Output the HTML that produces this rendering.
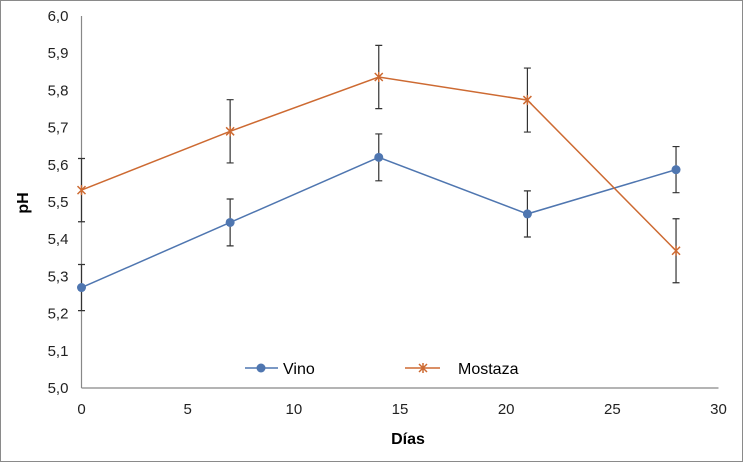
<!DOCTYPE html>
<html><head><meta charset="utf-8"><style>
html,body{margin:0;padding:0;background:#fff;}
svg{display:block;font-family:"Liberation Sans",Arial,sans-serif;}
</style></head><body>
<svg id="chart" width="744" height="463" viewBox="0 0 744 463">
<rect x="0.5" y="0.5" width="742" height="461" fill="#fff" stroke="#8a8a8a"/>
<g id="axes"></g><g id="series"></g>
<text x="28" y="203" transform="rotate(-90 28 203)" text-anchor="middle" font-weight="bold" font-size="16">pH</text>
<text x="408" y="444" text-anchor="middle" font-weight="bold" font-size="16">Días</text>
<g>
<line x1="245" y1="368" x2="278" y2="368" stroke="#4f76b0" stroke-width="1.5"/>
<circle cx="261" cy="368" r="4.5" fill="#4f76b0"/>
<text x="283" y="374" font-size="16">Vino</text>
<line x1="405" y1="368" x2="440" y2="368" stroke="#cd6a32" stroke-width="1.5"/>
<path d="M419 364l8 8M427 364l-8 8M423 363v10" stroke="#cd6a32" stroke-width="1.5"/>
<text x="458" y="374" font-size="16">Mostaza</text>
</g>
</svg>
<script>
const days=[0,7,14,21,28];
const vino=[5.27,5.445,5.62,5.468,5.587];
const vinoErr=[0.062,0.063,0.063,0.062,0.062];
const mostaza=[5.532,5.69,5.836,5.774,5.369];
const mostazaErr=[0.085,0.085,0.085,0.086,0.086];
const xTicks=[0,5,10,15,20,25,30];
const yTicks=[5.0,5.1,5.2,5.3,5.4,5.5,5.6,5.7,5.8,5.9,6.0];
const NS="http://www.w3.org/2000/svg";
const X=v=>81.5+(v-0)*(718.5-81.5)/30;
const Y=v=>388-(v-5)*372;
function mk(t,a,p){const e=document.createElementNS(NS,t);for(const k in a)e.setAttribute(k,a[k]);p.appendChild(e);return e;}
const ax=document.getElementById('axes'),sg=document.getElementById('series');
let l=mk('line',{x1:X(0),y1:Y(6),x2:X(0),y2:Y(5),stroke:'#888','stroke-width':1.2},ax);


l=mk('line',{x1:X(0),y1:Y(5),x2:X(30),y2:Y(5),stroke:'#888','stroke-width':1.2},ax);


yTicks.forEach(v=>{const t=mk('text',{x:58,y:Y(v)+5,'text-anchor':'middle','font-size':15,fill:'#222'},ax);t.textContent=v.toFixed(1).replace('.',',');

});
xTicks.forEach(v=>{const t=mk('text',{x:X(v),y:414,'text-anchor':'middle','font-size':15,fill:'#222'},ax);t.textContent=v;

});
function series(vals,errs,col,name,marker){
 const g=mk('g',{},sg);
 
 
 vals.forEach((v,i)=>{const x=X(days[i]),t=Y(v+errs[i]),b=Y(v-errs[i]);
  mk('path',{d:`M${x} ${t}V${b}M${x-3.5} ${t}h7M${x-3.5} ${b}h7`,stroke:'#333','stroke-width':1.2,fill:'none'},g);});
 const pl=mk('polyline',{points:vals.map((v,i)=>X(days[i])+','+Y(v)).join(' '),fill:'none',stroke:col,'stroke-width':1.5},g);
 
 
 vals.forEach((v,i)=>{const x=X(days[i]),y=Y(v);let m;
  if(marker==='c')m=mk('circle',{cx:x,cy:y,r:4.5,fill:col},g);
  else m=mk('path',{d:`M${x-4} ${y-4}l8 8M${x+4} ${y-4}l-8 8M${x} ${y-5}v10`,stroke:col,'stroke-width':1.5},g);
  
  });
}
series(vino,vinoErr,'#4f76b0','vino','c');
series(mostaza,mostazaErr,'#cd6a32','mostaza','x');
</script>
</body></html>
